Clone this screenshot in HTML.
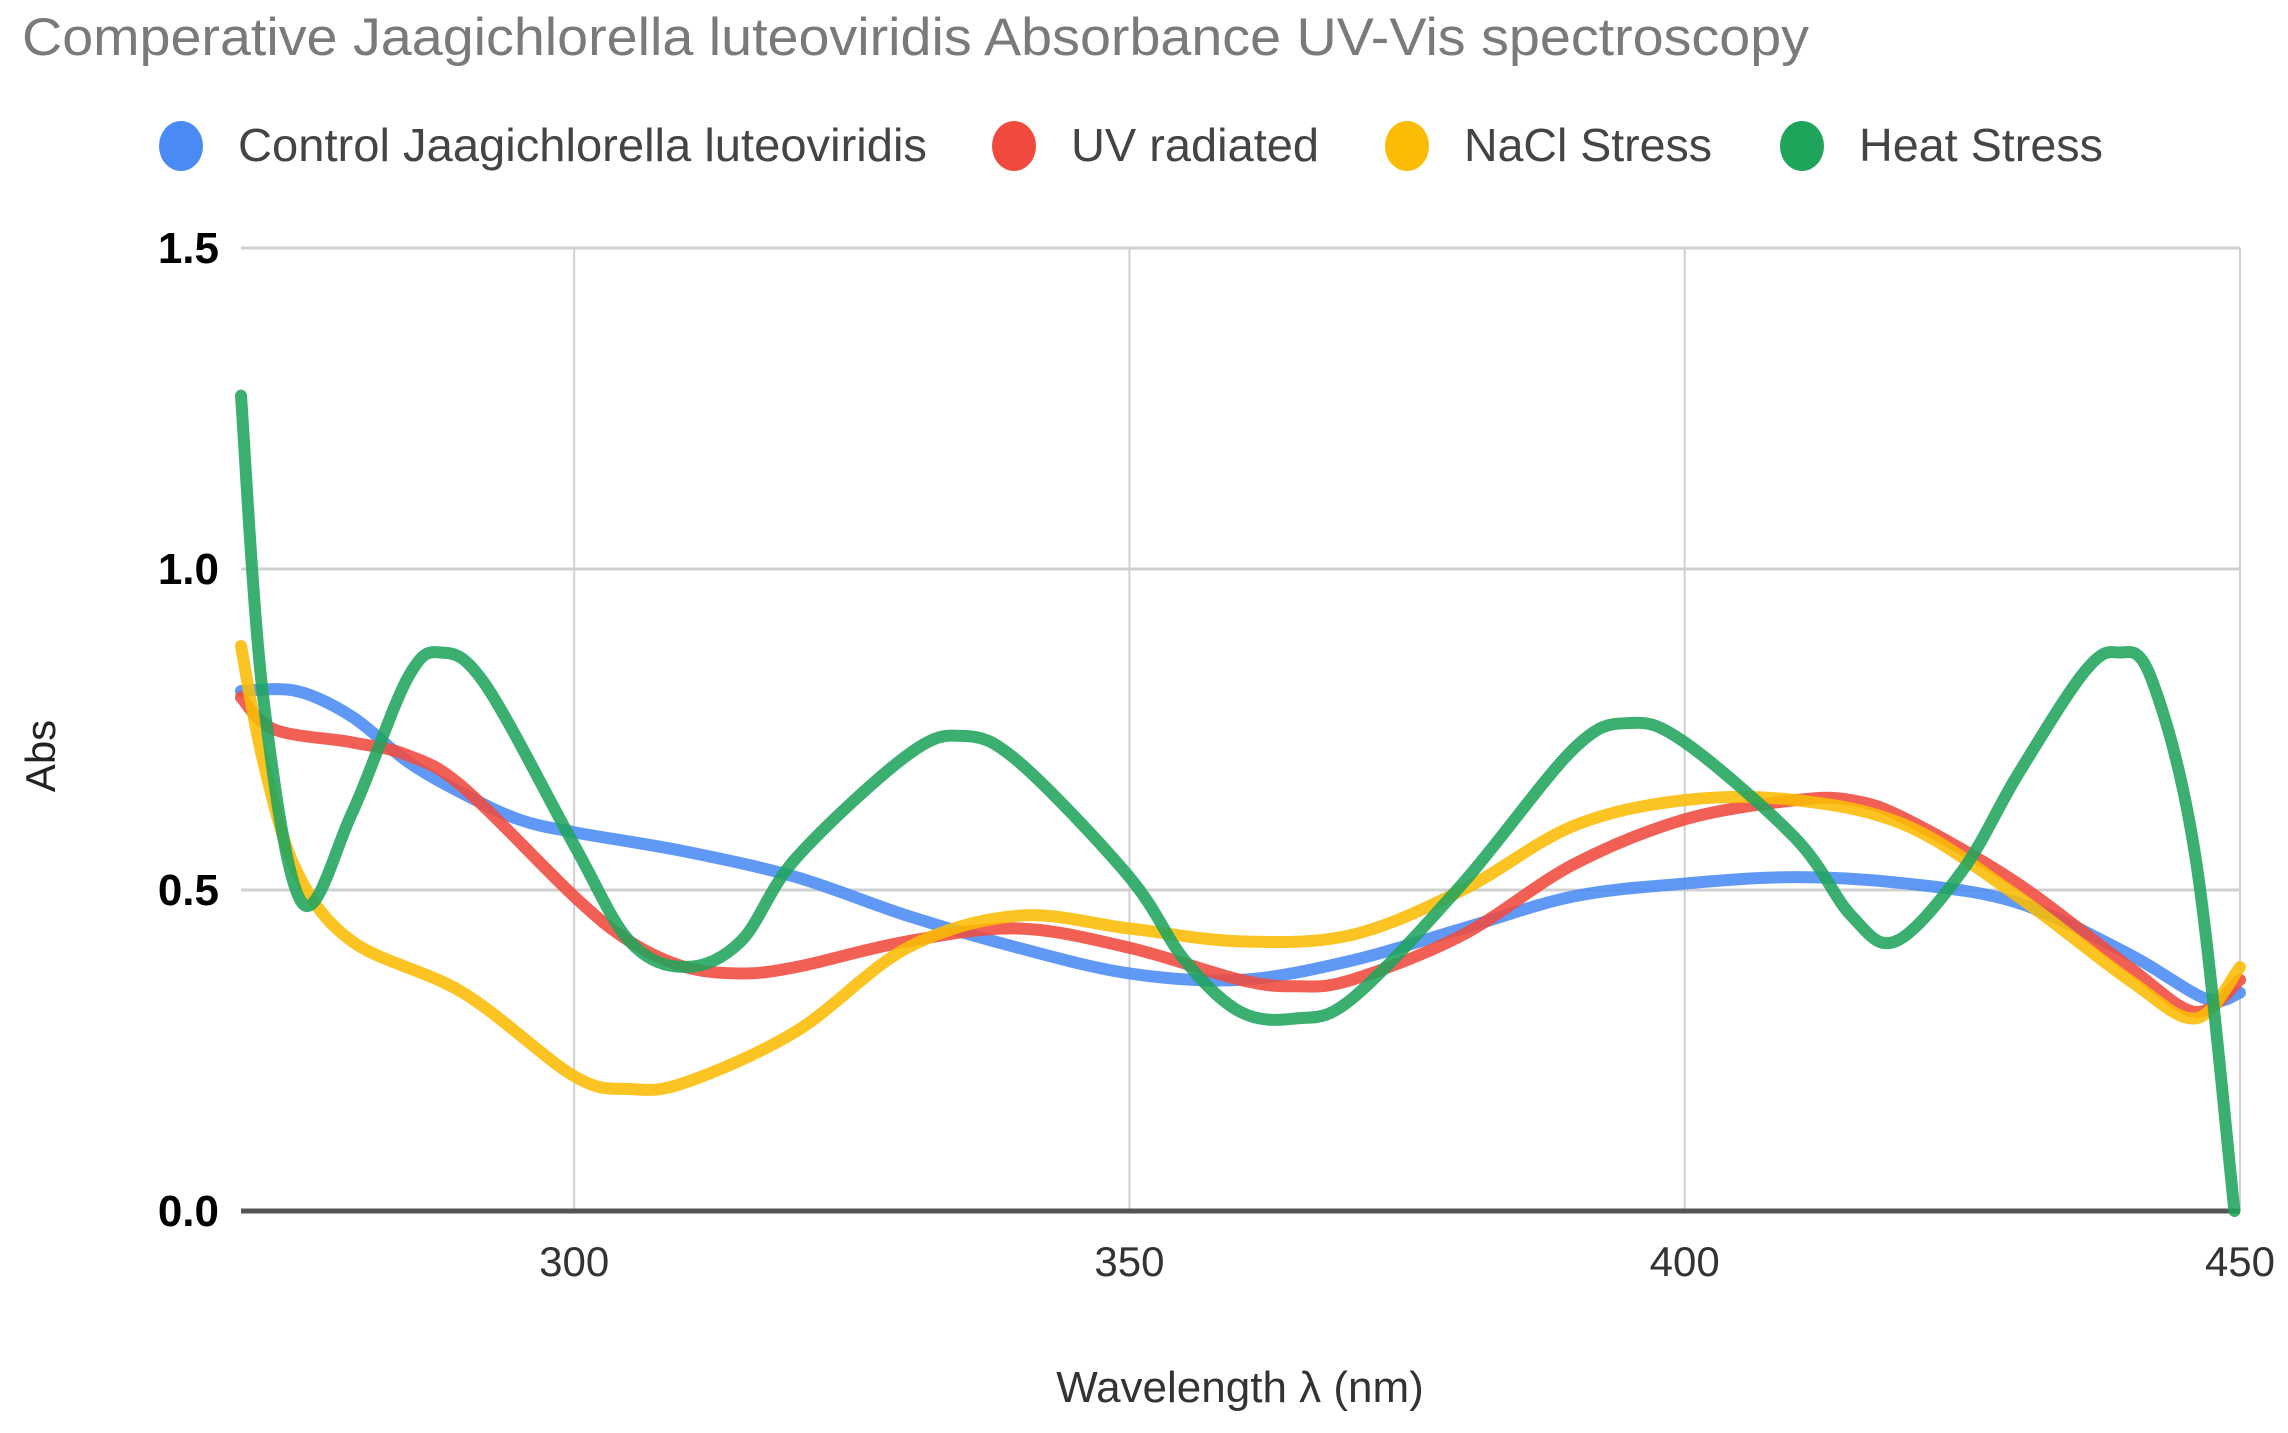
<!DOCTYPE html>
<html><head><meta charset="utf-8"><style>
html,body{margin:0;padding:0;background:#fff;}
svg{display:block;font-family:"Liberation Sans",Arial,sans-serif;}
</style></head><body>
<svg id="chart" width="2288" height="1433" viewBox="0 0 2288 1433">
<text x="22" y="55" font-size="53" fill="#7a7a7a" textLength="1787" lengthAdjust="spacingAndGlyphs">Comperative  Jaagichlorella luteoviridis Absorbance UV-Vis spectroscopy</text>
<g id="legend"></g>
<g id="grid"></g>
<g id="series"></g>
<text x="44" y="756" font-size="42" fill="#222" text-anchor="middle" transform="rotate(-90 44 756)" dominant-baseline="middle">Abs</text>
<text x="1240" y="1402" font-size="44" fill="#333" text-anchor="middle">Wavelength λ (nm)</text>
</svg>
<script>
const yTicks=[0,0.5,1.0,1.5];
const yTickLabels=["0.0","0.5","1.0","1.5"];
const xTicks=[300,350,400,450];
const seriesNames=["Control Jaagichlorella luteoviridis","UV radiated","NaCl Stress","Heat Stress"];
const seriesColors=["#4a8af4","#f04a3e","#fbbc04","#1fa45c"];
const controlX=[270,275,280,285,290,295,300,310,320,330,340,350,360,370,380,390,400,410,420,430,440,447,450];
const controlY=[0.81,0.81,0.77,0.70,0.65,0.61,0.59,0.56,0.52,0.46,0.41,0.37,0.36,0.39,0.44,0.49,0.51,0.52,0.51,0.48,0.40,0.33,0.34];
const uvX=[270,273,280,285,290,300,305,310,315,320,330,340,350,360,365,370,380,390,400,410,415,420,430,440,446,450];
const uvY=[0.80,0.75,0.73,0.71,0.66,0.49,0.42,0.38,0.37,0.38,0.42,0.44,0.41,0.36,0.35,0.36,0.43,0.54,0.61,0.64,0.64,0.61,0.51,0.38,0.31,0.36];
const naclX=[270,272,275,280,290,300,305,310,320,330,340,350,360,370,380,390,400,410,420,430,440,446,450];
const naclY=[0.88,0.70,0.53,0.42,0.34,0.21,0.19,0.20,0.28,0.41,0.46,0.44,0.42,0.43,0.50,0.60,0.64,0.64,0.60,0.49,0.36,0.30,0.38];
const heatX=[270,272,275.5,280,285,288,292,300,305,310,315,320,330,335,340,350,355,360,365,370,380,390,395,400,410,415,419,425,430,436,439,442,446,449.5];
const heatY=[1.27,0.80,0.48,0.62,0.83,0.87,0.82,0.57,0.42,0.38,0.42,0.55,0.71,0.74,0.70,0.52,0.39,0.31,0.30,0.33,0.51,0.72,0.76,0.73,0.58,0.46,0.42,0.53,0.68,0.84,0.87,0.83,0.55,0.0];

const NS="http://www.w3.org/2000/svg";
const X0=241,X1=2240,XMIN=270,XMAX=450,Y0=1211,Y1=248,YMAX=1.5;
function xs(v){return X0+(v-XMIN)*(X1-X0)/(XMAX-XMIN);}
function ys(v){return Y0-v*(Y0-Y1)/YMAX;}
function mk(tag,attrs,parent){const e=document.createElementNS(NS,tag);for(const k in attrs)e.setAttribute(k,attrs[k]);parent.appendChild(e);return e;}
const grid=document.getElementById('grid');
yTicks.forEach((t,i)=>{
  if(t>0){const l=mk('line',{x1:X0,x2:X1,y1:ys(t),y2:ys(t),stroke:'#d0d0d0','stroke-width':3},grid);
  
  }
  const tx=mk('text',{x:219,y:ys(t)+15,'font-size':44,'font-weight':'bold','text-anchor':'end',fill:'#000'},grid);
  tx.textContent=yTickLabels[i];
  
  
});
xTicks.forEach(t=>{
  const l=mk('line',{x1:xs(t),x2:xs(t),y1:Y1,y2:Y0,stroke:'#d0d0d0','stroke-width':2},grid);
  
  
  const tx=mk('text',{x:xs(t),y:1276,'font-size':42,'text-anchor':'middle',fill:'#333'},grid);
  tx.textContent=String(t);
  
  
});
const base=mk('line',{x1:X0,x2:X1,y1:Y0,y2:Y0,stroke:'#555','stroke-width':5},grid);



function pathFor(xa,ya){
  const p=xa.map((x,i)=>[xs(x),ys(ya[i])]);
  let d='M'+p[0][0]+' '+p[0][1];
  for(let i=0;i<p.length-1;i++){
    const a=p[Math.max(0,i-1)],b=p[i],c=p[i+1],e=p[Math.min(p.length-1,i+2)];
    const c1=[b[0]+(c[0]-a[0])/6,b[1]+(c[1]-a[1])/6],c2=[c[0]-(e[0]-b[0])/6,c[1]-(e[1]-b[1])/6];
    d+=` C${c1[0]} ${c1[1]} ${c2[0]} ${c2[1]} ${c[0]} ${c[1]}`;
  }
  return d;
}
const ser=document.getElementById('series');
const data=[[controlX,controlY],[uvX,uvY],[naclX,naclY],[heatX,heatY]];
const snames=['control-line','uv-radiated-line','nacl-stress-line','heat-stress-line'];
data.forEach((s,i)=>{
  const p=mk('path',{d:pathFor(s[0],s[1]),fill:'none',stroke:seriesColors[i],'stroke-width':12,'stroke-linejoin':'round','stroke-linecap':'round','stroke-opacity':0.88},ser);
  
  
});
const leg=document.getElementById('legend');
const lcx=[181,1014,1407,1802];
const lw=[689,248,248,244];
seriesNames.forEach((n,i)=>{
  const c=mk('ellipse',{cx:lcx[i],cy:146,rx:22,ry:25,fill:seriesColors[i]},leg);
  
  
  const t=mk('text',{x:lcx[i]+57,y:161,'font-size':46,fill:'#444',textLength:lw[i],lengthAdjust:'spacingAndGlyphs'},leg);
  t.textContent=n;
  
  
});
</script>
</body></html>
